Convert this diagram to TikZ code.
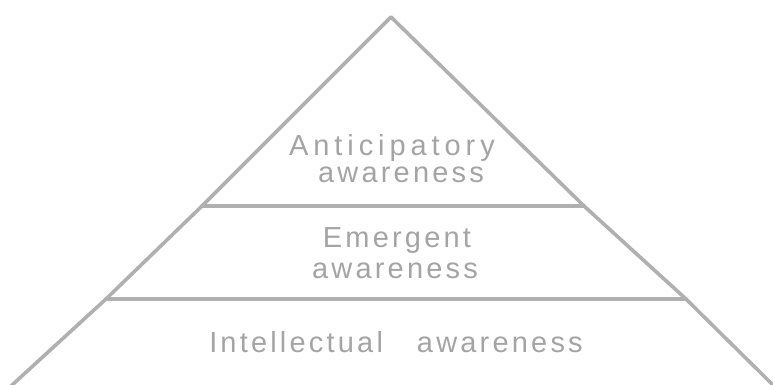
\documentclass[tikz,border=0pt]{standalone}
\usepackage{fontspec}
\setmainfont{Liberation Sans}[LetterSpace=11]
\newfontfamily\widesans{Liberation Sans}[LetterSpace=17]
\definecolor{linegray}{HTML}{B0B0B0}
\definecolor{textgray}{HTML}{A4A4A4}
\begin{document}
\begin{tikzpicture}[x=1pt,y=-1pt,line cap=round,line join=round]
\tikzset{
  edge/.style={draw=linegray,line width=3.6pt},
  lbl/.style={text=textgray,font=\fontsize{29}{33}\selectfont,inner sep=0pt,anchor=base}
}
\useasboundingbox (0,0) rectangle (773,384);
\coordinate (apex) at (391,17);
\coordinate (l1) at (202,206);
\coordinate (r1) at (584,206);
\coordinate (l2) at (106,299);
\coordinate (r2) at (686,299);
\coordinate (bl) at (11,386);
\coordinate (br) at (774,386);
\draw[edge] (bl) -- (l2) -- (l1) -- (apex) -- (r1) -- (r2) -- (br);
\draw[edge] (l1) -- (r1);
\draw[edge] (l2) -- (r2);
\node[lbl] (ant) at (392,155) {\widesans Anticipatory};
\node[lbl] (aw1) at (401,182) {awareness};
\node[lbl] (eme) at (397,247) {Emergent};
\node[lbl] (aw2) at (395,278) {awareness};
\node[lbl] (int) at (396,352) {Intellectual\hspace{34pt}awareness};
\end{tikzpicture}
\end{document}
